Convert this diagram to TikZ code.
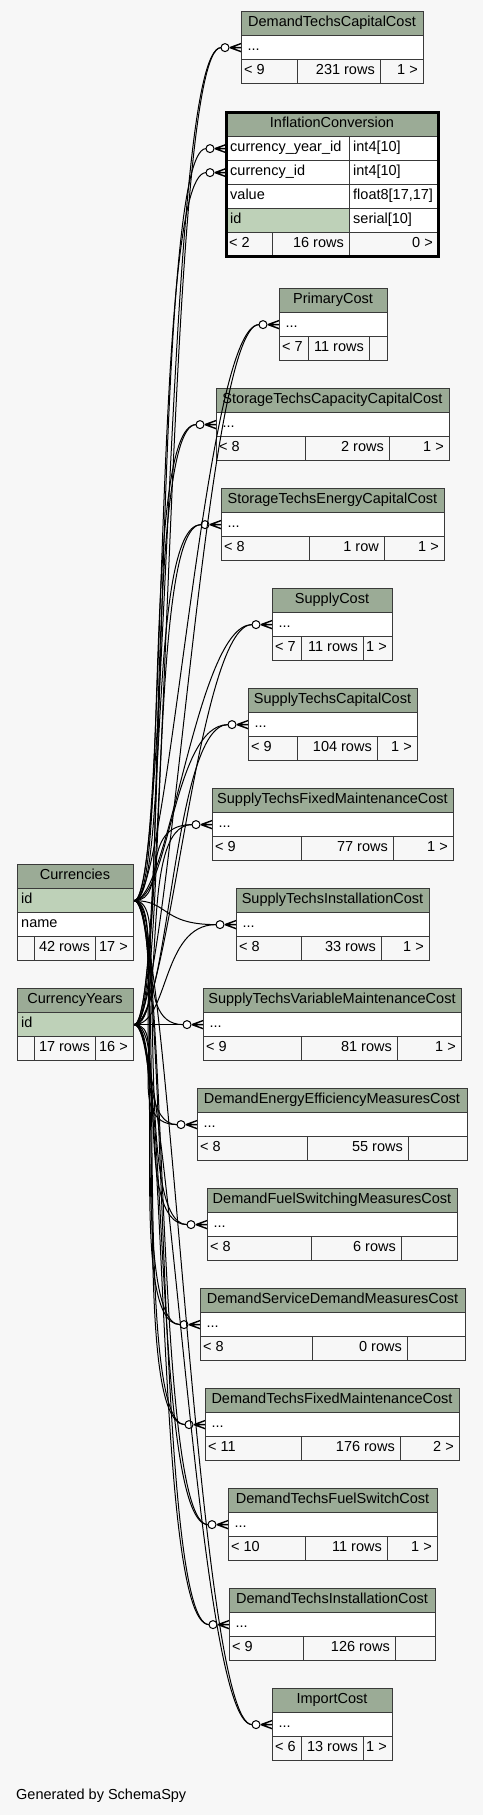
\documentclass[tikz,border=0pt]{standalone}
\usepackage{fontspec}
\setmainfont{Liberation Sans}
\usepackage{tikz}
\definecolor{headgreen}{HTML}{9BAB96}
\definecolor{keygreen}{HTML}{BED1B8}
\definecolor{bggray}{HTML}{F7F7F7}
\definecolor{lineclr}{HTML}{3A3A3A}
\newcommand{\tabfont}{\fontsize{14.5}{17}\selectfont}
\tikzset{
  cell/.style={rectangle, draw=lineclr, line width=1.2pt, minimum height=24pt, inner sep=0pt, anchor=north west},
  hdcell/.style={cell, fill=headgreen},
  bodycell/.style={cell, fill=white},
  keycell/.style={cell, fill=keygreen},
  footcell/.style={cell, fill=bggray},
  txt/.style={inner sep=0pt, font=\tabfont},
  fk/.style={line width=1pt, black},
  crowodot/.pic={
    \draw[line width=1.4pt] (-11,0) -- (0,-4) (-11,0) -- (0,0) (-11,0) -- (0,4);
    \draw[fk, fill=white] (-16,0) circle (4pt);
  },
}
% header cell: name, left, right, top, title
\newcommand{\colhead}[5]{%
  \node[hdcell, minimum width={(#3-#2)*1pt}] (#1) at (#2,#4) {};
  \node[txt, anchor=base] (#1-t) at ({(#2+#3)/2},#4+15) {#5};
}
% row cell: [style] name, left, right, top, text
\newcommand{\colrow}[6][bodycell]{%
  \node[#1, minimum width={(#4-#3)*1pt}] (#2) at (#3,#5) {};
  \node[txt, anchor=base west] (#2-t) at (#3+4,#5+15) {#6};
}
% footer: name, left, right, top, split1, split2, three texts
\newcommand{\colfoot}[9]{%
  \node[footcell, minimum width={(#5-#2)*1pt}] (#1-a) at (#2,#4) {};
  \node[footcell, minimum width={(#6-#5)*1pt}] (#1-b) at (#5,#4) {};
  \node[footcell, minimum width={(#3-#6)*1pt}] (#1-c) at (#6,#4) {};
  \node[txt, anchor=base west] (#1-at) at (#2+3,#4+15) {#7};
  \node[txt, anchor=base east] (#1-bt) at (#6-5,#4+15) {#8};
  \node[txt, anchor=base east] (#1-ct) at (#3-5,#4+15) {#9};
}
% collapsed table with crow's foot on its row: name, title, left, right, top
\newcommand{\fktable}[5]{%
  \colhead{#1-hd}{#3}{#4}{#5}{#2}
  \colrow{#1}{#3}{#4}{#5+24}{\,...}
  \pic at (#1.west) {crowodot};
  \coordinate (#1-in) at ([xshift=-20pt]#1.west);
}

\begin{document}
\begin{tikzpicture}[x=1pt, y=-1pt]
\useasboundingbox (0,0) rectangle (483,1815);
\fill[bggray] (0,0) rectangle (483,1815);

% parent tables
\colhead{cur-hd}{17}{133}{864}{Currencies}
\colrow[keycell]{curid}{17}{133}{888}{id}
\colrow{curname}{17}{133}{912}{name}
\colfoot{cur-ft}{17}{133}{936}{34}{95}{}{42 rows}{17 >}

\colhead{yr-hd}{17}{133}{988}{CurrencyYears}
\colrow[keycell]{yrid}{17}{133}{1012}{id}
\colfoot{yr-ft}{17}{133}{1036}{34}{95}{}{17 rows}{16 >}

% InflationConversion (expanded)
\colhead{infl-hd}{226}{438}{112}{InflationConversion}
\colrow{infl-yr}{226}{349}{136}{currency\_year\_id}
\colrow{infl-yrt}{349}{438}{136}{int4[10]}
\colrow{infl-cur}{226}{349}{160}{currency\_id}
\colrow{infl-curt}{349}{438}{160}{int4[10]}
\colrow{infl-val}{226}{349}{184}{value}
\colrow{infl-valt}{349}{438}{184}{float8[17,17]}
\colrow[keycell]{infl-id}{226}{349}{208}{id}
\colrow{infl-idt}{349}{438}{208}{serial[10]}
\colfoot{infl-ft}{226}{438}{232}{272}{349}{< 2}{16 rows}{0 >}
\draw[line width=3pt, black] (226,112) rectangle (438,256);
\pic at (infl-yr.west) {crowodot};
\pic at (infl-cur.west) {crowodot};
\coordinate (infl-yr-in) at ([xshift=-20pt]infl-yr.west);
\coordinate (infl-cur-in) at ([xshift=-20pt]infl-cur.west);

% child tables
\fktable{dtcc}{DemandTechsCapitalCost}{241}{423}{11}
\colfoot{dtcc-ft}{241}{423}{59}{297}{380}{< 9}{231 rows}{1 >}
\fktable{prim}{PrimaryCost}{279}{387}{288}
\colfoot{prim-ft}{279}{387}{336}{308}{369}{< 7}{11 rows}{}
\fktable{stcc}{StorageTechsCapacityCapitalCost}{216}{449}{388}
\colfoot{stcc-ft}{216}{449}{436}{305}{389}{< 8}{2 rows}{1 >}
\fktable{stec}{StorageTechsEnergyCapitalCost}{221}{444}{488}
\colfoot{stec-ft}{221}{444}{536}{309}{384}{< 8}{1 row}{1 >}
\fktable{supc}{SupplyCost}{272}{392}{588}
\colfoot{supc-ft}{272}{392}{636}{301}{363}{< 7}{11 rows}{1 >}
\fktable{stcap}{SupplyTechsCapitalCost}{248}{417}{688}
\colfoot{stcap-ft}{248}{417}{736}{297}{377}{< 9}{104 rows}{1 >}
\fktable{stfm}{SupplyTechsFixedMaintenanceCost}{212}{453}{788}
\colfoot{stfm-ft}{212}{453}{836}{301}{393}{< 9}{77 rows}{1 >}
\fktable{stic}{SupplyTechsInstallationCost}{236}{429}{888}
\colfoot{stic-ft}{236}{429}{936}{301}{381}{< 8}{33 rows}{1 >}
\fktable{stvm}{SupplyTechsVariableMaintenanceCost}{203}{461}{988}
\colfoot{stvm-ft}{203}{461}{1036}{301}{397}{< 9}{81 rows}{1 >}
\fktable{deem}{DemandEnergyEfficiencyMeasuresCost}{197}{467}{1088}
\colfoot{deem-ft}{197}{467}{1136}{307}{408}{< 8}{55 rows}{}
\fktable{dfsm}{DemandFuelSwitchingMeasuresCost}{207}{457}{1188}
\colfoot{dfsm-ft}{207}{457}{1236}{311}{401}{< 8}{6 rows}{}
\fktable{dsdm}{DemandServiceDemandMeasuresCost}{200}{465}{1288}
\colfoot{dsdm-ft}{200}{465}{1336}{312}{407}{< 8}{0 rows}{}
\fktable{dtfm}{DemandTechsFixedMaintenanceCost}{205}{459}{1388}
\colfoot{dtfm-ft}{205}{459}{1436}{301}{400}{< 11}{176 rows}{2 >}
\fktable{dtfs}{DemandTechsFuelSwitchCost}{228}{437}{1488}
\colfoot{dtfs-ft}{228}{437}{1536}{305}{387}{< 10}{11 rows}{1 >}
\fktable{dtic}{DemandTechsInstallationCost}{229}{435}{1588}
\colfoot{dtic-ft}{229}{435}{1636}{303}{395}{< 9}{126 rows}{}
\fktable{impc}{ImportCost}{272}{392}{1688}
\colfoot{impc-ft}{272}{392}{1736}{301}{363}{< 6}{13 rows}{1 >}

% foreign keys
\foreach \t in {dtcc, prim, stcc, stec, supc, stcap, stfm, stic, stvm, deem, dfsm, dsdm, dtfm, dtfs, dtic, impc} {
  \draw[fk] (curid.east) .. controls +(35,0) and +(-55,0) .. (\t-in);
  \draw[fk] (yrid.east) .. controls +(35,0) and +(-55,0) .. (\t-in);
}
\draw[fk] (curid.east) .. controls +(35,0) and +(-55,0) .. (infl-cur-in);
\draw[fk] (yrid.east) .. controls +(35,0) and +(-55,0) .. (infl-yr-in);

\node[txt, anchor=base west] (credit) at (16,1799) {Generated by SchemaSpy};
\end{tikzpicture}
\end{document}
